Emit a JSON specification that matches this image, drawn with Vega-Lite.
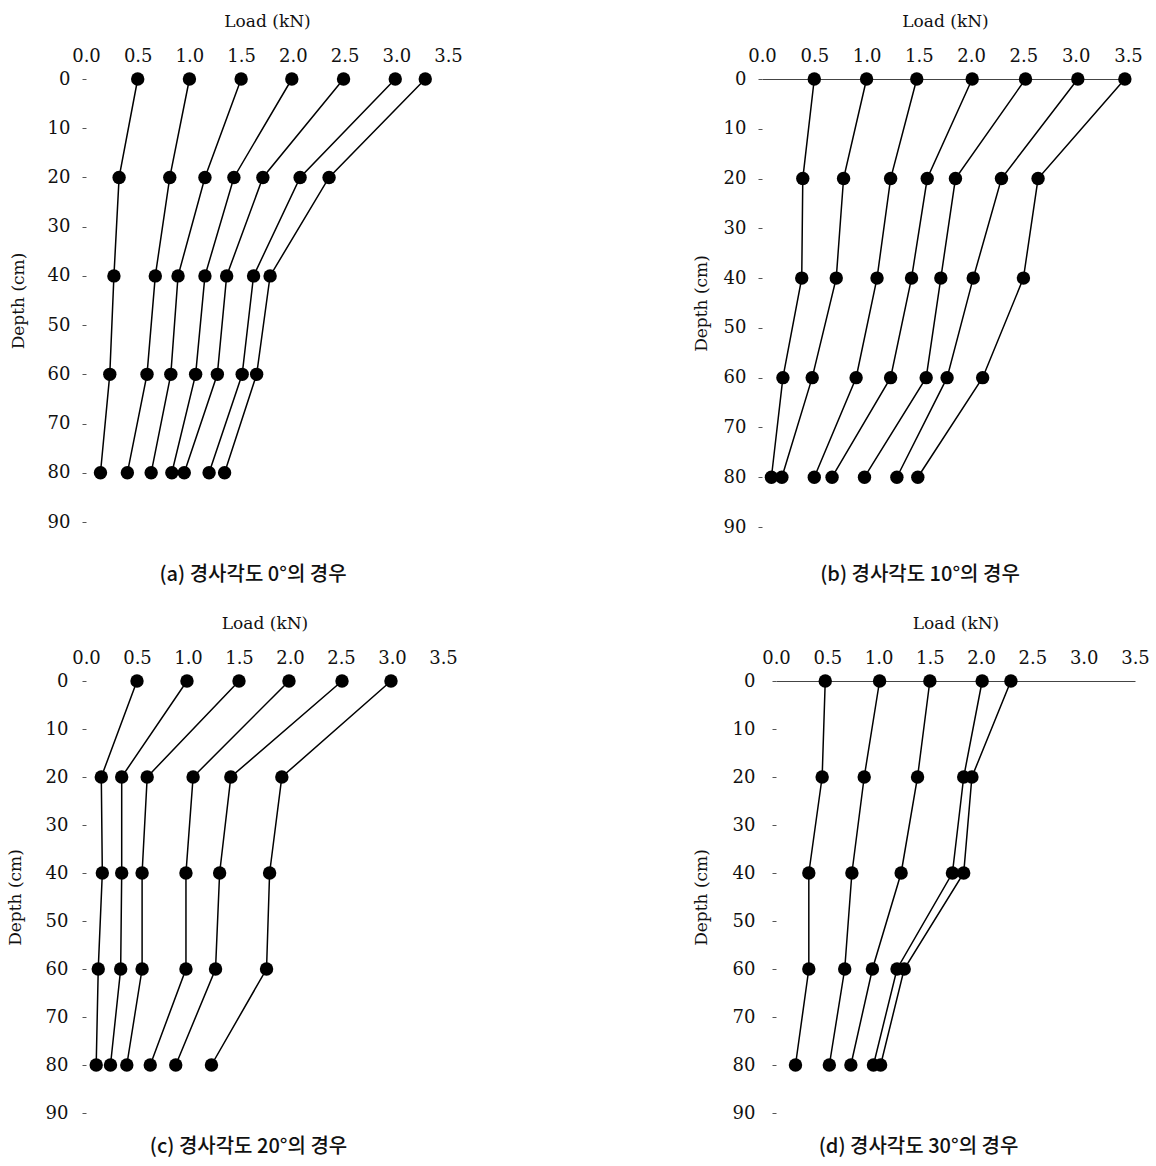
{
  "$schema": "https://vega.github.io/schema/vega-lite/v6.json",
  "background": "white",
  "padding": {"left": 6, "top": 12, "right": 3, "bottom": 8},
  "config": {
    "view": {"stroke": null},
    "axis": {"labelFont": "DejaVu Serif", "titleFont": "DejaVu Serif", "labelFontSize": 18, "titleFontSize": 17, "titleFontWeight": "normal", "labelColor": "#111", "titleColor": "#111", "grid": false, "labelFlush": false, "labelOverlap": false, "tickColor": "#555", "domainColor": "#444"},
    "title": {"font": "Noto Sans CJK KR", "fontSize": 20, "fontWeight": 500, "color": "#111"}
  },
  "datasets": {
    "a": [
      {"series": 1, "depth": 0, "load": 0.50}, {"series": 1, "depth": 20, "load": 0.32}, {"series": 1, "depth": 40, "load": 0.27}, {"series": 1, "depth": 60, "load": 0.23}, {"series": 1, "depth": 80, "load": 0.14},
      {"series": 2, "depth": 0, "load": 1.00}, {"series": 2, "depth": 20, "load": 0.81}, {"series": 2, "depth": 40, "load": 0.67}, {"series": 2, "depth": 60, "load": 0.59}, {"series": 2, "depth": 80, "load": 0.40},
      {"series": 3, "depth": 0, "load": 1.50}, {"series": 3, "depth": 20, "load": 1.15}, {"series": 3, "depth": 40, "load": 0.89}, {"series": 3, "depth": 60, "load": 0.82}, {"series": 3, "depth": 80, "load": 0.63},
      {"series": 4, "depth": 0, "load": 1.99}, {"series": 4, "depth": 20, "load": 1.43}, {"series": 4, "depth": 40, "load": 1.15}, {"series": 4, "depth": 60, "load": 1.06}, {"series": 4, "depth": 80, "load": 0.83},
      {"series": 5, "depth": 0, "load": 2.49}, {"series": 5, "depth": 20, "load": 1.71}, {"series": 5, "depth": 40, "load": 1.36}, {"series": 5, "depth": 60, "load": 1.27}, {"series": 5, "depth": 80, "load": 0.95},
      {"series": 6, "depth": 0, "load": 2.99}, {"series": 6, "depth": 20, "load": 2.07}, {"series": 6, "depth": 40, "load": 1.62}, {"series": 6, "depth": 60, "load": 1.51}, {"series": 6, "depth": 80, "load": 1.19},
      {"series": 7, "depth": 0, "load": 3.28}, {"series": 7, "depth": 20, "load": 2.35}, {"series": 7, "depth": 40, "load": 1.78}, {"series": 7, "depth": 60, "load": 1.65}, {"series": 7, "depth": 80, "load": 1.34}
    ],
    "b": [
      {"series": 1, "depth": 0, "load": 0.50}, {"series": 1, "depth": 20, "load": 0.39}, {"series": 1, "depth": 40, "load": 0.38}, {"series": 1, "depth": 60, "load": 0.20}, {"series": 1, "depth": 80, "load": 0.09},
      {"series": 2, "depth": 0, "load": 1.00}, {"series": 2, "depth": 20, "load": 0.78}, {"series": 2, "depth": 40, "load": 0.71}, {"series": 2, "depth": 60, "load": 0.48}, {"series": 2, "depth": 80, "load": 0.19},
      {"series": 3, "depth": 0, "load": 1.48}, {"series": 3, "depth": 20, "load": 1.23}, {"series": 3, "depth": 40, "load": 1.10}, {"series": 3, "depth": 60, "load": 0.90}, {"series": 3, "depth": 80, "load": 0.50},
      {"series": 4, "depth": 0, "load": 2.01}, {"series": 4, "depth": 20, "load": 1.58}, {"series": 4, "depth": 40, "load": 1.43}, {"series": 4, "depth": 60, "load": 1.23}, {"series": 4, "depth": 80, "load": 0.67},
      {"series": 5, "depth": 0, "load": 2.52}, {"series": 5, "depth": 20, "load": 1.85}, {"series": 5, "depth": 40, "load": 1.71}, {"series": 5, "depth": 60, "load": 1.57}, {"series": 5, "depth": 80, "load": 0.98},
      {"series": 6, "depth": 0, "load": 3.02}, {"series": 6, "depth": 20, "load": 2.29}, {"series": 6, "depth": 40, "load": 2.02}, {"series": 6, "depth": 60, "load": 1.77}, {"series": 6, "depth": 80, "load": 1.29},
      {"series": 7, "depth": 0, "load": 3.47}, {"series": 7, "depth": 20, "load": 2.64}, {"series": 7, "depth": 40, "load": 2.50}, {"series": 7, "depth": 60, "load": 2.11}, {"series": 7, "depth": 80, "load": 1.49}
    ],
    "c": [
      {"series": 1, "depth": 0, "load": 0.50}, {"series": 1, "depth": 20, "load": 0.15}, {"series": 1, "depth": 40, "load": 0.16}, {"series": 1, "depth": 60, "load": 0.12}, {"series": 1, "depth": 80, "load": 0.10},
      {"series": 2, "depth": 0, "load": 0.99}, {"series": 2, "depth": 20, "load": 0.35}, {"series": 2, "depth": 40, "load": 0.35}, {"series": 2, "depth": 60, "load": 0.34}, {"series": 2, "depth": 80, "load": 0.24},
      {"series": 3, "depth": 0, "load": 1.50}, {"series": 3, "depth": 20, "load": 0.60}, {"series": 3, "depth": 40, "load": 0.55}, {"series": 3, "depth": 60, "load": 0.55}, {"series": 3, "depth": 80, "load": 0.40},
      {"series": 4, "depth": 0, "load": 1.99}, {"series": 4, "depth": 20, "load": 1.05}, {"series": 4, "depth": 40, "load": 0.98}, {"series": 4, "depth": 60, "load": 0.98}, {"series": 4, "depth": 80, "load": 0.63},
      {"series": 5, "depth": 0, "load": 2.51}, {"series": 5, "depth": 20, "load": 1.42}, {"series": 5, "depth": 40, "load": 1.31}, {"series": 5, "depth": 60, "load": 1.27}, {"series": 5, "depth": 80, "load": 0.88},
      {"series": 6, "depth": 0, "load": 2.99}, {"series": 6, "depth": 20, "load": 1.92}, {"series": 6, "depth": 40, "load": 1.80}, {"series": 6, "depth": 60, "load": 1.77}, {"series": 6, "depth": 80, "load": 1.23}
    ],
    "d": [
      {"series": 1, "depth": 0, "load": 0.48}, {"series": 1, "depth": 20, "load": 0.45}, {"series": 1, "depth": 40, "load": 0.32}, {"series": 1, "depth": 60, "load": 0.32}, {"series": 1, "depth": 80, "load": 0.19},
      {"series": 2, "depth": 0, "load": 1.01}, {"series": 2, "depth": 20, "load": 0.86}, {"series": 2, "depth": 40, "load": 0.74}, {"series": 2, "depth": 60, "load": 0.67}, {"series": 2, "depth": 80, "load": 0.52},
      {"series": 3, "depth": 0, "load": 1.50}, {"series": 3, "depth": 20, "load": 1.38}, {"series": 3, "depth": 40, "load": 1.22}, {"series": 3, "depth": 60, "load": 0.94}, {"series": 3, "depth": 80, "load": 0.73},
      {"series": 4, "depth": 0, "load": 2.01}, {"series": 4, "depth": 20, "load": 1.83}, {"series": 4, "depth": 40, "load": 1.72}, {"series": 4, "depth": 60, "load": 1.18}, {"series": 4, "depth": 80, "load": 0.95},
      {"series": 5, "depth": 0, "load": 2.29}, {"series": 5, "depth": 20, "load": 1.91}, {"series": 5, "depth": 40, "load": 1.83}, {"series": 5, "depth": 60, "load": 1.25}, {"series": 5, "depth": 80, "load": 1.02}
    ]
  },
  "columns": 2,
  "align": "none",
  "spacing": {"row": 29, "column": 229},
  "concat": [
    {
      "width": 362, "height": 443,
      "data": {"name": "a"},
      "title": {"text": "(a) 경사각도 0°의 경우", "orient": "bottom", "offset": 34, "dx": -14},
      "encoding": {
        "x": {"field": "load", "type": "quantitative", "scale": {"domain": [0, 3.5], "nice": false, "zero": false}, "axis": {"orient": "top", "title": "Load  (kN)", "values": [0, 0.5, 1, 1.5, 2, 2.5, 3, 3.5], "format": ".1f", "ticks": false, "domain": false, "labelPadding": 14, "titlePadding": 17}},
        "y": {"field": "depth", "type": "quantitative", "scale": {"domain": [0, 90], "reverse": true, "nice": false}, "axis": {"title": "Depth (cm)", "values": [0, 10, 20, 30, 40, 50, 60, 70, 80, 90], "domain": false, "tickSize": 4, "labelPadding": 12, "titlePadding": 20}},
        "detail": {"field": "series", "type": "nominal"}
      },
      "layer": [
        {"mark": {"type": "line", "color": "black", "strokeWidth": 1.5}, "encoding": {"order": {"field": "depth", "type": "quantitative"}}},
        {"mark": {"type": "point", "filled": true, "color": "black", "size": 180, "opacity": 1}}
      ]
    },
    {
      "width": 366, "height": 448,
      "data": {"name": "b"},
      "title": {"text": "(b) 경사각도 10°의 경우", "orient": "bottom", "offset": 29, "dx": -25},
      "encoding": {
        "x": {"field": "load", "type": "quantitative", "scale": {"domain": [0, 3.5], "nice": false, "zero": false}, "axis": {"orient": "top", "title": "Load  (kN)", "values": [0, 0.5, 1, 1.5, 2, 2.5, 3, 3.5], "format": ".1f", "ticks": false, "domain": true, "labelPadding": 14, "titlePadding": 17}},
        "y": {"field": "depth", "type": "quantitative", "scale": {"domain": [0, 90], "reverse": true, "nice": false}, "axis": {"title": "Depth (cm)", "values": [0, 10, 20, 30, 40, 50, 60, 70, 80, 90], "domain": false, "tickSize": 4, "labelPadding": 12, "titlePadding": 13}},
        "detail": {"field": "series", "type": "nominal"}
      },
      "layer": [
        {"mark": {"type": "line", "color": "black", "strokeWidth": 1.5}, "encoding": {"order": {"field": "depth", "type": "quantitative"}}},
        {"mark": {"type": "point", "filled": true, "color": "black", "size": 180, "opacity": 1}}
      ]
    },
    {
      "width": 357, "height": 432,
      "data": {"name": "c"},
      "title": {"text": "(c) 경사각도 20°의 경우", "orient": "bottom", "offset": 15, "dx": -16},
      "encoding": {
        "x": {"field": "load", "type": "quantitative", "scale": {"domain": [0, 3.5], "nice": false, "zero": false}, "axis": {"orient": "top", "title": "Load  (kN)", "values": [0, 0.5, 1, 1.5, 2, 2.5, 3, 3.5], "format": ".1f", "ticks": false, "domain": false, "labelPadding": 14, "titlePadding": 17}},
        "y": {"field": "depth", "type": "quantitative", "scale": {"domain": [0, 90], "reverse": true, "nice": false}, "axis": {"title": "Depth (cm)", "values": [0, 10, 20, 30, 40, 50, 60, 70, 80, 90], "domain": false, "tickSize": 4, "labelPadding": 14, "titlePadding": 21}},
        "detail": {"field": "series", "type": "nominal"}
      },
      "layer": [
        {"mark": {"type": "line", "color": "black", "strokeWidth": 1.5}, "encoding": {"order": {"field": "depth", "type": "quantitative"}}},
        {"mark": {"type": "point", "filled": true, "color": "black", "size": 180, "opacity": 1}}
      ]
    },
    {
      "width": 359, "height": 432,
      "data": {"name": "d"},
      "title": {"text": "(d) 경사각도 30°의 경우", "orient": "bottom", "offset": 15, "dx": -37},
      "encoding": {
        "x": {"field": "load", "type": "quantitative", "scale": {"domain": [0, 3.5], "nice": false, "zero": false}, "axis": {"orient": "top", "title": "Load  (kN)", "values": [0, 0.5, 1, 1.5, 2, 2.5, 3, 3.5], "format": ".1f", "ticks": false, "domain": true, "labelPadding": 14, "titlePadding": 17}},
        "y": {"field": "depth", "type": "quantitative", "scale": {"domain": [0, 90], "reverse": true, "nice": false}, "axis": {"title": "Depth (cm)", "values": [0, 10, 20, 30, 40, 50, 60, 70, 80, 90], "domain": false, "tickSize": 4, "labelPadding": 17, "titlePadding": 22}},
        "detail": {"field": "series", "type": "nominal"}
      },
      "layer": [
        {"mark": {"type": "line", "color": "black", "strokeWidth": 1.5}, "encoding": {"order": {"field": "depth", "type": "quantitative"}}},
        {"mark": {"type": "point", "filled": true, "color": "black", "size": 180, "opacity": 1}}
      ]
    }
  ]
}
